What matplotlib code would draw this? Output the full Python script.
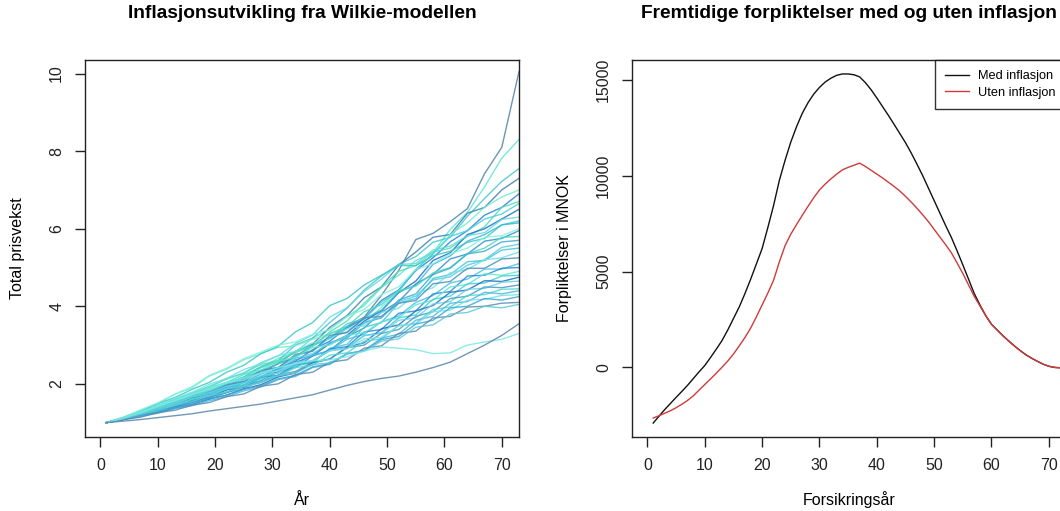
import numpy as np
import matplotlib
matplotlib.use("Agg")
import matplotlib.pyplot as plt

plt.rcParams['font.family'] = ['Liberation Sans', 'DejaVu Sans']

# simulated price index paths (Wilkie model), read every third year
years = list(range(1, 74, 3))
paths = [
    [1, 1.10, 1.23, 1.35, 1.52, 1.60, 1.80, 1.93, 2.15, 2.28, 2.52, 2.70, 3.00, 3.18, 3.48, 3.72, 4.28, 4.92, 5.72, 5.88, 6.18, 6.52, 7.42, 8.10, 10.05],
    [1, 1.12, 1.26, 1.39, 1.56, 1.70, 1.90, 2.03, 2.25, 2.42, 2.66, 2.82, 3.18, 3.40, 3.74, 4.02, 4.48, 4.80, 5.18, 5.38, 5.98, 6.42, 7.08, 7.82, 8.30],
    [1, 1.11, 1.23, 1.39, 1.49, 1.68, 1.83, 2.00, 2.18, 2.45, 2.60, 3.00, 3.18, 3.58, 3.95, 4.42, 4.78, 5.08, 5.28, 5.65, 5.78, 6.32, 6.78, 7.22, 7.55],
    [1, 1.10, 1.21, 1.34, 1.47, 1.63, 1.79, 1.97, 2.12, 2.33, 2.52, 2.84, 3.02, 3.46, 3.76, 4.22, 4.50, 5.06, 5.40, 5.78, 5.85, 6.40, 6.55, 7.00, 7.30],
    [1, 1.14, 1.31, 1.49, 1.73, 1.90, 2.20, 2.38, 2.62, 2.78, 2.94, 2.98, 3.15, 3.28, 3.45, 3.55, 3.98, 4.36, 4.95, 5.35, 5.85, 6.15, 6.55, 6.82, 7.00],
    [1, 1.09, 1.20, 1.30, 1.45, 1.57, 1.73, 1.85, 2.04, 2.18, 2.40, 2.58, 2.88, 3.10, 3.45, 3.68, 4.15, 4.42, 4.92, 5.25, 5.66, 5.95, 6.35, 6.55, 6.90],
    [1, 1.12, 1.27, 1.44, 1.60, 1.76, 1.94, 2.12, 2.28, 2.50, 2.60, 2.80, 2.98, 3.34, 3.62, 4.08, 4.50, 4.90, 5.05, 5.40, 5.50, 5.80, 6.05, 6.55, 6.70],
    [1, 1.11, 1.25, 1.38, 1.55, 1.67, 1.85, 1.99, 2.17, 2.33, 2.52, 2.68, 2.98, 3.18, 3.55, 3.68, 4.10, 4.40, 4.95, 5.35, 5.80, 5.95, 6.25, 6.38, 6.65],
    [1, 1.09, 1.20, 1.31, 1.41, 1.57, 1.69, 1.85, 1.97, 2.16, 2.32, 2.55, 2.72, 3.04, 3.25, 3.62, 3.88, 4.35, 4.65, 5.18, 5.38, 5.85, 6.00, 6.25, 6.50],
    [1, 1.12, 1.26, 1.43, 1.57, 1.75, 1.91, 2.14, 2.28, 2.55, 2.72, 3.04, 3.26, 3.72, 3.96, 4.38, 4.70, 5.08, 5.10, 5.45, 5.55, 5.82, 5.90, 6.24, 6.30],
    [1, 1.13, 1.30, 1.49, 1.65, 1.86, 2.04, 2.30, 2.48, 2.78, 2.97, 3.34, 3.58, 4.02, 4.20, 4.55, 4.80, 5.05, 5.05, 5.30, 5.42, 5.65, 5.75, 6.10, 6.20],
    [1, 1.10, 1.22, 1.37, 1.47, 1.63, 1.77, 1.94, 2.08, 2.33, 2.42, 2.72, 2.86, 3.20, 3.34, 3.68, 3.90, 4.36, 4.55, 5.08, 5.30, 5.68, 5.85, 6.10, 6.15],
    [1, 1.14, 1.33, 1.51, 1.74, 1.93, 2.22, 2.40, 2.65, 2.82, 3.00, 3.08, 3.28, 3.40, 3.74, 3.92, 4.30, 4.50, 4.95, 5.10, 5.35, 5.50, 5.78, 5.82, 6.00],
    [1, 1.09, 1.20, 1.29, 1.42, 1.53, 1.67, 1.79, 1.96, 2.08, 2.31, 2.42, 2.72, 2.86, 3.22, 3.44, 3.85, 4.12, 4.58, 4.82, 5.22, 5.35, 5.68, 5.75, 5.95],
    [1, 1.11, 1.24, 1.39, 1.51, 1.69, 1.83, 2.02, 2.16, 2.42, 2.56, 2.84, 2.98, 3.30, 3.48, 3.86, 4.04, 4.40, 4.52, 4.86, 5.00, 5.36, 5.50, 5.78, 5.80],
    [1, 1.10, 1.21, 1.34, 1.45, 1.61, 1.73, 1.91, 2.03, 2.26, 2.37, 2.62, 2.74, 3.06, 3.18, 3.58, 3.70, 4.16, 4.32, 4.82, 4.98, 5.35, 5.42, 5.66, 5.70],
    [1, 1.11, 1.23, 1.38, 1.49, 1.66, 1.79, 1.98, 2.10, 2.31, 2.42, 2.66, 2.78, 3.06, 3.20, 3.58, 3.72, 4.12, 4.26, 4.68, 4.76, 5.06, 5.20, 5.52, 5.60],
    [1, 1.08, 1.17, 1.29, 1.37, 1.52, 1.60, 1.78, 1.87, 2.10, 2.18, 2.46, 2.55, 2.92, 3.02, 3.46, 3.58, 4.08, 4.20, 4.72, 4.82, 5.15, 5.18, 5.45, 5.50],
    [1, 1.13, 1.29, 1.44, 1.63, 1.79, 1.99, 2.14, 2.37, 2.52, 2.73, 2.84, 3.06, 3.16, 3.42, 3.50, 3.84, 3.95, 4.32, 4.48, 4.86, 4.95, 5.20, 5.25, 5.40],
    [1, 1.10, 1.21, 1.35, 1.46, 1.64, 1.75, 1.97, 2.06, 2.35, 2.42, 2.76, 2.84, 3.25, 3.32, 3.70, 3.74, 4.08, 4.15, 4.58, 4.64, 4.98, 4.98, 5.22, 5.25],
    [1, 1.10, 1.23, 1.33, 1.47, 1.59, 1.75, 1.87, 2.04, 2.16, 2.38, 2.49, 2.74, 2.86, 3.15, 3.28, 3.60, 3.75, 4.10, 4.28, 4.60, 4.70, 4.96, 4.96, 5.10],
    [1, 1.09, 1.18, 1.32, 1.40, 1.57, 1.64, 1.85, 1.91, 2.16, 2.22, 2.50, 2.56, 2.90, 2.96, 3.34, 3.40, 3.82, 3.88, 4.32, 4.38, 4.78, 4.80, 4.98, 5.00],
    [1, 1.12, 1.27, 1.41, 1.59, 1.73, 1.91, 2.04, 2.24, 2.36, 2.58, 2.69, 2.94, 3.00, 3.25, 3.32, 3.60, 3.70, 4.04, 4.16, 4.50, 4.56, 4.84, 4.80, 4.90],
    [1, 1.10, 1.20, 1.34, 1.44, 1.60, 1.70, 1.88, 1.98, 2.18, 2.28, 2.50, 2.60, 2.85, 2.93, 3.25, 3.32, 3.70, 3.78, 4.18, 4.26, 4.58, 4.60, 4.78, 4.80],
    [1, 1.08, 1.18, 1.26, 1.38, 1.47, 1.61, 1.71, 1.87, 1.98, 2.18, 2.28, 2.54, 2.64, 2.95, 3.06, 3.42, 3.52, 3.88, 4.02, 4.36, 4.42, 4.66, 4.64, 4.75],
    [1, 1.11, 1.23, 1.38, 1.49, 1.66, 1.76, 1.94, 2.02, 2.22, 2.28, 2.52, 2.58, 2.86, 2.92, 3.24, 3.30, 3.64, 3.70, 4.06, 4.12, 4.44, 4.46, 4.62, 4.65],
    [1, 1.09, 1.20, 1.29, 1.42, 1.52, 1.66, 1.77, 1.93, 2.04, 2.23, 2.32, 2.56, 2.64, 2.93, 3.00, 3.30, 3.40, 3.74, 3.86, 4.20, 4.26, 4.50, 4.48, 4.55],
    [1, 1.10, 1.21, 1.36, 1.45, 1.61, 1.70, 1.87, 1.95, 2.14, 2.20, 2.42, 2.48, 2.74, 2.80, 3.10, 3.16, 3.50, 3.56, 3.92, 3.98, 4.28, 4.30, 4.44, 4.45],
    [1, 1.08, 1.17, 1.24, 1.36, 1.44, 1.57, 1.67, 1.82, 1.92, 2.11, 2.19, 2.42, 2.50, 2.77, 2.86, 3.18, 3.28, 3.64, 3.74, 4.08, 4.12, 4.36, 4.32, 4.40],
    [1, 1.12, 1.25, 1.44, 1.56, 1.75, 1.84, 2.04, 2.10, 2.28, 2.33, 2.55, 2.60, 2.86, 2.90, 3.16, 3.20, 3.50, 3.54, 3.86, 3.90, 4.16, 4.18, 4.28, 4.30],
    [1, 1.09, 1.19, 1.27, 1.39, 1.48, 1.62, 1.71, 1.86, 1.95, 2.13, 2.22, 2.44, 2.52, 2.78, 2.86, 3.14, 3.22, 3.54, 3.64, 3.96, 4.00, 4.20, 4.16, 4.25],
    [1, 1.08, 1.14, 1.26, 1.32, 1.45, 1.52, 1.67, 1.74, 1.94, 2.00, 2.24, 2.30, 2.56, 2.62, 2.92, 2.98, 3.30, 3.36, 3.70, 3.74, 3.98, 4.00, 4.08, 4.10],
    [1, 1.10, 1.22, 1.31, 1.45, 1.55, 1.69, 1.79, 1.94, 2.03, 2.21, 2.28, 2.50, 2.54, 2.78, 2.84, 3.10, 3.16, 3.46, 3.52, 3.80, 3.84, 4.00, 3.96, 4.05],
    [1, 1.12, 1.26, 1.42, 1.57, 1.72, 1.88, 2.02, 2.15, 2.28, 2.42, 2.52, 2.60, 2.62, 2.70, 2.85, 2.95, 2.92, 2.88, 2.78, 2.80, 3.00, 3.08, 3.15, 3.30],
    [1, 1.04, 1.08, 1.13, 1.18, 1.23, 1.30, 1.36, 1.42, 1.48, 1.56, 1.64, 1.72, 1.84, 1.96, 2.06, 2.14, 2.20, 2.30, 2.42, 2.56, 2.78, 3.00, 3.25, 3.55],
]
path_colors = ['#4f84a8', '#5ee4d4', '#42c8cc', '#3f7fb5', '#74ecd0', '#2a80dc',
               '#50e0b0', '#48d0d8', '#1e6ec8', '#66d8e4', '#3cc8c8', '#38b8d8',
               '#86f0dc', '#2f8fd0', '#4fd8c0', '#3aaad4', '#5cc8e0', '#40c8d8',
               '#70e0e8', '#4a90b8', '#46c0e8', '#2a86d8', '#5ee8d0', '#40d0d0',
               '#1c6fc0', '#68d0e8', '#4a9ac0', '#50d8d0', '#48b8e0', '#78e0e0',
               '#3aa8d8', '#5a8cb0', '#60c8d8', '#7ae8e4', '#5886ac']

# liabilities with and without inflation (MNOK) per insurance year
ins_years = list(range(1, 74))
med_infl = [-2900, -2550, -2200, -1880, -1560, -1250, -930, -580, -230, 100,
            520, 950, 1400, 1950, 2550, 3150, 3850, 4600, 5400, 6200,
            7300, 8450, 9750, 10800, 11750, 12550, 13250, 13800, 14250, 14600,
            14880, 15080, 15230, 15300, 15300, 15260, 15150, 14850, 14480, 14050,
            13600, 13150, 12680, 12200, 11720, 11180, 10600, 10000, 9350, 8700,
            8050, 7400, 6780, 6080, 5350, 4600, 3850, 3250, 2700, 2250,
            1950, 1650, 1380, 1120, 880, 660, 480, 320, 170, 60,
            0, -20, -30]
uten_infl = [-2640, -2520, -2390, -2260, -2100, -1920, -1720, -1480, -1180, -890,
             -600, -300, 10, 330, 700, 1120, 1560, 2050, 2640, 3260,
             3880, 4550, 5500, 6350, 6950, 7450, 7930, 8400, 8850, 9250,
             9560, 9830, 10080, 10300, 10430, 10540, 10650, 10480, 10280, 10080,
             9880, 9660, 9440, 9200, 8920, 8620, 8300, 7960, 7600, 7200,
             6800, 6400, 5980, 5450, 4900, 4300, 3700, 3200, 2700, 2250,
             1950, 1650, 1380, 1120, 880, 660, 480, 320, 170, 60,
             0, -20, -30]

W, H = 1060, 511
fig = plt.figure(figsize=(W / 100, H / 100), dpi=100)

def px_axes(left, top, right, bottom):
    return fig.add_axes([left / W, 1 - bottom / H, (right - left) / W, (bottom - top) / H])

ax1 = px_axes(85, 60, 519, 437)
ax2 = px_axes(632, 60, 1066, 437)

for p, c in zip(paths, path_colors):
    ax1.plot(years, p, color=c, lw=1.0, alpha=0.85)
ax1.set_xlim(-2.7, 73)
ax1.set_ylim(0.63, 10.35)
ax1.set_yticks([2, 4, 6, 8, 10])

ax2.plot(ins_years, med_infl, color='#111111', lw=1.0, label='Med inflasjon')
ax2.plot(ins_years, uten_infl, color='#d03a3a', lw=1.0, label='Uten inflasjon')
ax2.set_xlim(-2.7, 73)
ax2.set_ylim(-3628, 16028)
ax2.set_yticks([0, 5000, 10000, 15000])
leg = ax2.legend(loc='upper right', borderaxespad=0, fontsize=9.2, frameon=True,
                 fancybox=False, edgecolor='black', handlelength=1.9,
                 handletextpad=0.7, labelspacing=0.35, borderpad=0.8)
leg.get_frame().set_linewidth(1.0)

titles = ['Inflasjonsutvikling fra Wilkie-modellen',
          'Fremtidige forpliktelser med og uten inflasjon']
xlabels = ['År', 'Forsikringsår']
ylabels = ['Total prisvekst', 'Forpliktelser i MNOK']

for ax, t, xl, yl in zip([ax1, ax2], titles, xlabels, ylabels):
    ax.set_xticks(range(0, 71, 10))
    ax.tick_params(direction='out', length=7, width=1, labelsize=11.5, pad=8,
                   color='#222222', labelcolor='#222222')
    for lab in ax.get_yticklabels():
        lab.set_rotation(90)
        lab.set_va('center')
    for s in ax.spines.values():
        s.set_linewidth(1.0)
        s.set_color('#222222')
    ax.set_title(t, fontsize=13.8, fontweight='bold', y=1 + 38 / 377, va='center')
    ax.set_xlabel(xl, fontsize=11.5, va='center')
    ax.xaxis.set_label_coords(0.5, -63 / 377)
    ax.set_ylabel(yl, fontsize=11.5, va='center')
    ax.yaxis.set_label_coords(-67 / 434, 0.5)

fig.savefig('out.png', dpi=100)
